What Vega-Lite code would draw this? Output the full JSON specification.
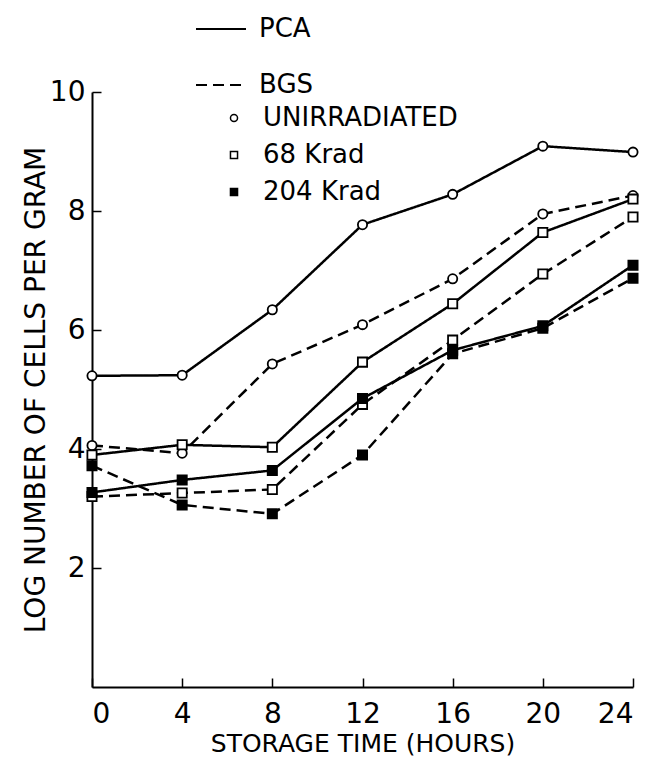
{
  "$schema": "https://vega.github.io/schema/vega-lite/v6.json",
  "autosize": "none",
  "width": 541,
  "height": 595,
  "padding": {"left": 92, "top": 92, "right": 36, "bottom": 79},
  "background": "white",
  "config": {
    "view": {"stroke": null},
    "font": "DejaVu Sans",
    "axis": {"grid": false, "domainColor": "black", "tickColor": "black", "labelColor": "black", "titleColor": "black", "titleFontWeight": "normal", "labelFont": "DejaVu Sans", "titleFont": "DejaVu Sans"},
    "legend": {"labelFont": "DejaVu Sans", "labelColor": "black", "labelLimit": 400}
  },
  "data": {
    "values": [
      {"medium": "PCA", "dose": "UNIRRADIATED", "hour": 0, "logcells": 5.23},
      {"medium": "PCA", "dose": "UNIRRADIATED", "hour": 4, "logcells": 5.24},
      {"medium": "PCA", "dose": "UNIRRADIATED", "hour": 8, "logcells": 6.34},
      {"medium": "PCA", "dose": "UNIRRADIATED", "hour": 12, "logcells": 7.77},
      {"medium": "PCA", "dose": "UNIRRADIATED", "hour": 16, "logcells": 8.28},
      {"medium": "PCA", "dose": "UNIRRADIATED", "hour": 20, "logcells": 9.09},
      {"medium": "PCA", "dose": "UNIRRADIATED", "hour": 24, "logcells": 8.99},
      {"medium": "BGS", "dose": "UNIRRADIATED", "hour": 0, "logcells": 4.06},
      {"medium": "BGS", "dose": "UNIRRADIATED", "hour": 4, "logcells": 3.93},
      {"medium": "BGS", "dose": "UNIRRADIATED", "hour": 8, "logcells": 5.43},
      {"medium": "BGS", "dose": "UNIRRADIATED", "hour": 12, "logcells": 6.09},
      {"medium": "BGS", "dose": "UNIRRADIATED", "hour": 16, "logcells": 6.86},
      {"medium": "BGS", "dose": "UNIRRADIATED", "hour": 20, "logcells": 7.95},
      {"medium": "BGS", "dose": "UNIRRADIATED", "hour": 24, "logcells": 8.26},
      {"medium": "PCA", "dose": "68 Krad", "hour": 0, "logcells": 3.9},
      {"medium": "PCA", "dose": "68 Krad", "hour": 4, "logcells": 4.07},
      {"medium": "PCA", "dose": "68 Krad", "hour": 8, "logcells": 4.03},
      {"medium": "PCA", "dose": "68 Krad", "hour": 12, "logcells": 5.46},
      {"medium": "PCA", "dose": "68 Krad", "hour": 16, "logcells": 6.44},
      {"medium": "PCA", "dose": "68 Krad", "hour": 20, "logcells": 7.64},
      {"medium": "PCA", "dose": "68 Krad", "hour": 24, "logcells": 8.2},
      {"medium": "BGS", "dose": "68 Krad", "hour": 0, "logcells": 3.2},
      {"medium": "BGS", "dose": "68 Krad", "hour": 4, "logcells": 3.26},
      {"medium": "BGS", "dose": "68 Krad", "hour": 8, "logcells": 3.32},
      {"medium": "BGS", "dose": "68 Krad", "hour": 12, "logcells": 4.75},
      {"medium": "BGS", "dose": "68 Krad", "hour": 16, "logcells": 5.83},
      {"medium": "BGS", "dose": "68 Krad", "hour": 20, "logcells": 6.94},
      {"medium": "BGS", "dose": "68 Krad", "hour": 24, "logcells": 7.9},
      {"medium": "PCA", "dose": "204 Krad", "hour": 0, "logcells": 3.27},
      {"medium": "PCA", "dose": "204 Krad", "hour": 4, "logcells": 3.48},
      {"medium": "PCA", "dose": "204 Krad", "hour": 8, "logcells": 3.64},
      {"medium": "PCA", "dose": "204 Krad", "hour": 12, "logcells": 4.85},
      {"medium": "PCA", "dose": "204 Krad", "hour": 16, "logcells": 5.66},
      {"medium": "PCA", "dose": "204 Krad", "hour": 20, "logcells": 6.07},
      {"medium": "PCA", "dose": "204 Krad", "hour": 24, "logcells": 7.09},
      {"medium": "BGS", "dose": "204 Krad", "hour": 0, "logcells": 3.72},
      {"medium": "BGS", "dose": "204 Krad", "hour": 4, "logcells": 3.06},
      {"medium": "BGS", "dose": "204 Krad", "hour": 8, "logcells": 2.91},
      {"medium": "BGS", "dose": "204 Krad", "hour": 12, "logcells": 3.9},
      {"medium": "BGS", "dose": "204 Krad", "hour": 16, "logcells": 5.6},
      {"medium": "BGS", "dose": "204 Krad", "hour": 20, "logcells": 6.03},
      {"medium": "BGS", "dose": "204 Krad", "hour": 24, "logcells": 6.87}
    ]
  },
  "encoding": {
    "x": {
      "field": "hour", "type": "quantitative",
      "scale": {"domain": [0, 24], "nice": false, "zero": false},
      "axis": {"values": [0, 4, 8, 12, 16, 20, 24], "tickSize": -9, "tickWidth": 1.5, "domainWidth": 2, "labelFontSize": 28, "labelPadding": 22, "title": "STORAGE TIME  (HOURS)", "titleFontSize": 25, "titlePadding": 3}
    },
    "y": {
      "field": "logcells", "type": "quantitative",
      "scale": {"domain": [0, 10], "nice": false},
      "axis": {"values": [2, 4, 6, 8, 10], "tickSize": -9, "tickWidth": 1.5, "domainWidth": 2, "labelFontSize": 28, "labelPadding": 16, "title": "LOG NUMBER OF CELLS PER GRAM", "titleFontSize": 28, "titlePadding": -1}
    }
  },
  "layer": [
    {
      "mark": {"type": "line", "color": "black", "strokeWidth": 2.5},
      "encoding": {
        "detail": [{"field": "medium"}, {"field": "dose"}],
        "strokeDash": {
          "field": "medium", "type": "nominal",
          "scale": {"domain": ["PCA", "BGS"], "range": [[1, 0], [11, 6]]},
          "legend": {"title": null, "orient": "none", "legendX": 103, "legendY": -89, "symbolType": "stroke", "symbolSize": 2500, "symbolStrokeColor": "black", "symbolStrokeWidth": 2, "labelFontSize": 26, "labelOffset": 12, "rowPadding": 17,
            "encode": {"symbols": {"update": {"strokeDash": [{"test": "datum.label === 'BGS'", "value": [8, 4]}, {"value": [1, 0]}]}}}}
        }
      }
    },
    {
      "mark": {"type": "point", "size": 85, "strokeWidth": 1.8, "stroke": "black", "opacity": 1, "filled": false},
      "encoding": {
        "shape": {
          "field": "dose", "type": "nominal",
          "scale": {"domain": ["UNIRRADIATED", "68 Krad", "204 Krad"], "range": ["circle", "square", "square"]},
          "legend": {"title": null, "orient": "none", "legendX": 129, "legendY": 13, "symbolSize": 50, "labelFontSize": 26, "labelOffset": 16, "rowPadding": 11,
            "encode": {"symbols": {"update": {"stroke": {"value": "black"}, "strokeWidth": {"value": 1.5}, "opacity": {"value": 1}}}}}
        },
        "fill": {
          "field": "dose", "type": "nominal",
          "scale": {"domain": ["UNIRRADIATED", "68 Krad", "204 Krad"], "range": ["white", "white", "black"]},
          "legend": {"title": null, "orient": "none", "legendX": 129, "legendY": 13, "symbolSize": 50, "labelFontSize": 26, "labelOffset": 16, "rowPadding": 11,
            "encode": {"symbols": {"update": {"stroke": {"value": "black"}, "strokeWidth": {"value": 1.5}, "opacity": {"value": 1}}}}}
        }
      }
    }
  ]
}
